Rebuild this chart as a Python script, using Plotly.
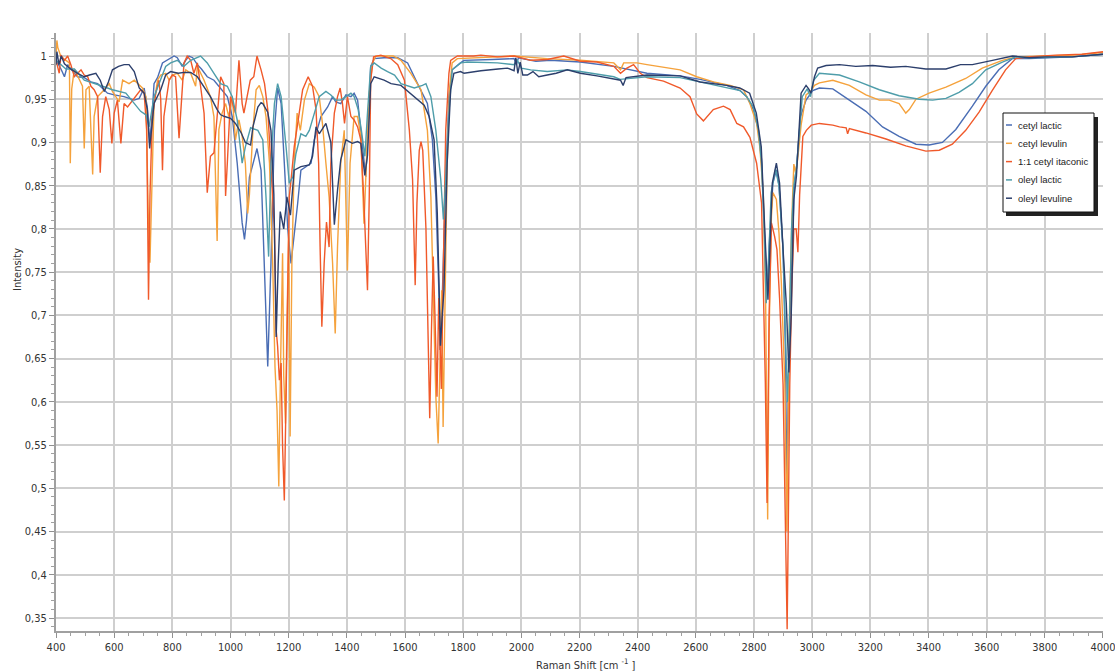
import plotly.graph_objects as go

# Raman spectra: (wavenumber cm-1, normalised intensity) pairs per sample
cetyl_lactic = [
    (400, 0.995), (410, 0.99), (417, 0.985), (429, 0.976), (440, 0.99), (451, 0.985), (474, 0.976),
    (497, 0.975), (520, 0.97), (543, 0.968), (577, 0.957), (600, 0.955), (634, 0.953), (669, 0.949),
    (686, 0.951), (703, 0.963), (714, 0.94), (722, 0.9), (730, 0.93), (737, 0.968), (749, 0.975),
    (766, 0.992), (806, 1.0), (817, 0.998), (834, 0.988), (846, 0.995), (857, 1.0), (870, 0.998),
    (886, 0.99), (900, 0.985), (920, 0.976), (943, 0.972), (966, 0.963), (989, 0.953), (1006, 0.93),
    (1023, 0.876), (1040, 0.807), (1048, 0.788), (1055, 0.81), (1065, 0.86), (1077, 0.875),
    (1091, 0.893), (1105, 0.868), (1117, 0.76), (1128, 0.641), (1139, 0.76), (1151, 0.914),
    (1162, 0.963), (1174, 0.945), (1185, 0.876), (1197, 0.799), (1208, 0.76), (1219, 0.791),
    (1231, 0.83), (1242, 0.868), (1259, 0.872), (1277, 0.876), (1288, 0.903), (1311, 0.93),
    (1334, 0.941), (1351, 0.953), (1362, 0.947), (1379, 0.945), (1397, 0.955), (1414, 0.953),
    (1425, 0.957), (1437, 0.949), (1448, 0.914), (1459, 0.876), (1465, 0.86), (1471, 0.9),
    (1482, 0.988), (1494, 0.997), (1528, 0.998), (1575, 0.998), (1609, 0.992), (1643, 0.968),
    (1677, 0.945), (1694, 0.903), (1706, 0.837), (1717, 0.722), (1720, 0.66), (1728, 0.72),
    (1740, 0.857), (1751, 0.953), (1762, 0.984), (1791, 0.992), (1803, 0.995), (1900, 0.996),
    (1975, 0.997), (1983, 0.99), (1990, 0.998), (2050, 0.994), (2100, 0.995), (2203, 0.993),
    (2318, 0.988), (2432, 0.98), (2546, 0.977), (2615, 0.973), (2706, 0.966), (2752, 0.96),
    (2775, 0.953), (2798, 0.938), (2815, 0.915), (2826, 0.88), (2836, 0.8), (2845, 0.725),
    (2852, 0.78), (2865, 0.853), (2877, 0.868), (2886, 0.85), (2900, 0.776), (2908, 0.66),
    (2913, 0.5), (2918, 0.62), (2924, 0.7), (2931, 0.776), (2939, 0.853), (2946, 0.87),
    (2960, 0.93), (2979, 0.949), (3002, 0.96), (3025, 0.963), (3071, 0.962), (3128, 0.949),
    (3185, 0.936), (3242, 0.918), (3299, 0.907), (3357, 0.898), (3402, 0.897), (3448, 0.9),
    (3494, 0.915), (3551, 0.942), (3597, 0.965), (3642, 0.984), (3688, 0.997), (3746, 0.997),
    (3894, 0.999), (4000, 1.002),
]

cetyl_levulin = [
    (400, 1.0), (403, 1.018), (406, 1.01), (417, 0.999), (434, 0.995), (446, 0.992), (449, 0.876),
    (454, 0.962), (463, 0.985), (480, 0.973), (491, 0.965), (497, 0.893), (503, 0.961), (514, 0.965),
    (526, 0.863), (531, 0.93), (543, 0.953), (560, 0.959), (583, 0.968), (594, 0.959), (606, 0.953),
    (617, 0.947), (629, 0.972), (651, 0.968), (669, 0.972), (680, 0.968), (697, 0.963), (709, 0.953),
    (717, 0.818), (723, 0.761), (729, 0.838), (737, 0.945), (749, 0.972), (760, 0.978), (777, 0.98),
    (789, 0.972), (800, 0.978), (817, 0.98), (834, 0.972), (846, 0.984), (863, 0.98), (880, 0.965),
    (886, 0.988), (909, 0.972), (931, 0.953), (943, 0.93), (954, 0.786), (960, 0.915), (971, 0.934),
    (983, 0.945), (994, 0.93), (1006, 0.953), (1017, 0.903), (1029, 0.926), (1040, 0.907),
    (1051, 0.876), (1059, 0.818), (1065, 0.84), (1077, 0.914), (1088, 0.961), (1099, 0.966),
    (1111, 0.953), (1122, 0.93), (1134, 0.876), (1145, 0.76), (1153, 0.64), (1160, 0.59),
    (1166, 0.502), (1172, 0.64), (1179, 0.772), (1183, 0.63), (1189, 0.575), (1194, 0.69),
    (1200, 0.8), (1205, 0.56), (1211, 0.76), (1219, 0.876), (1229, 0.934), (1240, 0.914),
    (1254, 0.949), (1271, 0.968), (1288, 0.964), (1305, 0.953), (1316, 0.922), (1328, 0.876),
    (1339, 0.837), (1351, 0.76), (1360, 0.679), (1368, 0.78), (1379, 0.876), (1391, 0.914),
    (1402, 0.752), (1411, 0.876), (1425, 0.93), (1437, 0.93), (1448, 0.907), (1459, 0.806),
    (1467, 0.868), (1476, 0.953), (1488, 0.992), (1500, 1.0), (1528, 1.0), (1560, 1.0),
    (1586, 0.995), (1620, 0.98), (1655, 0.961), (1677, 0.914), (1689, 0.837), (1698, 0.722),
    (1706, 0.606), (1714, 0.552), (1720, 0.64), (1726, 0.729), (1731, 0.571), (1737, 0.72),
    (1745, 0.876), (1753, 0.96), (1762, 0.992), (1780, 0.997), (1836, 0.998), (1975, 1.0),
    (2089, 0.997), (2203, 0.995), (2318, 0.992), (2341, 0.984), (2352, 0.992), (2398, 0.992),
    (2432, 0.99), (2546, 0.984), (2603, 0.976), (2661, 0.97), (2718, 0.966), (2764, 0.961),
    (2786, 0.945), (2809, 0.922), (2820, 0.895), (2832, 0.84), (2840, 0.72), (2847, 0.464),
    (2852, 0.68), (2860, 0.815), (2865, 0.842), (2871, 0.838), (2877, 0.834), (2886, 0.795),
    (2894, 0.738), (2906, 0.622), (2913, 0.45), (2918, 0.6), (2923, 0.72), (2932, 0.83),
    (2937, 0.875), (2943, 0.865), (2950, 0.88), (2962, 0.92), (2979, 0.955), (2997, 0.96),
    (3008, 0.966), (3025, 0.969), (3071, 0.972), (3128, 0.966), (3185, 0.955), (3231, 0.949),
    (3265, 0.949), (3299, 0.945), (3322, 0.934), (3334, 0.938), (3357, 0.95), (3402, 0.957),
    (3460, 0.964), (3528, 0.974), (3585, 0.986), (3654, 0.995), (3700, 0.999), (3800, 1.0),
    (3900, 1.001), (4000, 1.004),
]

cetyl_itaconic = [
    (400, 0.995), (406, 0.985), (411, 0.98), (417, 1.001), (429, 0.995), (440, 1.0), (451, 0.99),
    (463, 0.976), (474, 0.98), (486, 0.984), (497, 0.978), (509, 0.976), (520, 0.965), (531, 0.961),
    (543, 0.953), (552, 0.865), (560, 0.93), (571, 0.953), (583, 0.938), (592, 0.899), (600, 0.934),
    (611, 0.949), (623, 0.899), (634, 0.945), (646, 0.941), (663, 0.949), (680, 0.957), (691, 0.961),
    (703, 0.957), (712, 0.914), (718, 0.718), (723, 0.838), (731, 0.93), (743, 0.957), (754, 0.972),
    (760, 0.95), (766, 0.868), (771, 0.93), (777, 0.945), (789, 0.972), (800, 0.978), (811, 0.976),
    (823, 0.905), (831, 0.953), (840, 0.992), (851, 1.0), (863, 0.995), (874, 0.98), (886, 0.992),
    (897, 0.965), (909, 0.934), (920, 0.842), (931, 0.884), (943, 0.888), (954, 0.934), (966, 0.976),
    (977, 0.968), (983, 0.838), (989, 0.876), (1000, 0.953), (1017, 0.934), (1029, 0.995),
    (1040, 0.945), (1046, 0.934), (1057, 0.953), (1068, 0.972), (1080, 0.976), (1091, 1.0),
    (1105, 0.984), (1117, 0.968), (1128, 0.938), (1139, 0.876), (1151, 0.8), (1157, 0.683),
    (1162, 0.664), (1168, 0.625), (1174, 0.645), (1179, 0.548), (1185, 0.486), (1191, 0.605),
    (1197, 0.722), (1202, 0.837), (1208, 0.856), (1219, 0.895), (1231, 0.922), (1248, 0.961),
    (1267, 0.976), (1282, 0.965), (1294, 0.938), (1303, 0.876), (1308, 0.78), (1314, 0.687),
    (1322, 0.76), (1330, 0.808), (1339, 0.779), (1345, 0.876), (1357, 0.934), (1368, 0.953),
    (1377, 0.963), (1385, 0.945), (1392, 0.922), (1402, 0.953), (1414, 0.93), (1425, 0.926),
    (1437, 0.918), (1448, 0.903), (1458, 0.837), (1465, 0.783), (1471, 0.729), (1477, 0.837),
    (1482, 0.972), (1492, 0.999), (1517, 1.001), (1551, 0.997), (1575, 0.99), (1598, 0.972),
    (1615, 0.914), (1626, 0.857), (1632, 0.79), (1635, 0.735), (1641, 0.83), (1649, 0.891),
    (1655, 0.901), (1661, 0.891), (1672, 0.8), (1680, 0.684), (1685, 0.581), (1691, 0.684),
    (1697, 0.768), (1703, 0.7), (1710, 0.606), (1716, 0.72), (1722, 0.63), (1725, 0.615),
    (1732, 0.76), (1740, 0.914), (1751, 0.98), (1757, 0.995), (1780, 1.0), (1836, 1.0),
    (1861, 1.001), (1918, 0.999), (1975, 1.0), (2032, 0.995), (2089, 0.996), (2146, 1.0),
    (2203, 0.994), (2260, 0.993), (2318, 0.988), (2341, 0.98), (2363, 0.986), (2386, 0.99),
    (2409, 0.98), (2432, 0.975), (2489, 0.971), (2546, 0.963), (2580, 0.953), (2603, 0.933),
    (2626, 0.925), (2660, 0.938), (2695, 0.942), (2718, 0.938), (2741, 0.922), (2764, 0.918),
    (2786, 0.906), (2809, 0.876), (2826, 0.83), (2839, 0.622), (2845, 0.483), (2852, 0.7),
    (2860, 0.807), (2866, 0.8), (2871, 0.791), (2879, 0.776), (2888, 0.72), (2900, 0.62),
    (2906, 0.5), (2911, 0.4), (2914, 0.337), (2918, 0.46), (2923, 0.62), (2929, 0.72),
    (2937, 0.8), (2945, 0.8), (2951, 0.773), (2957, 0.84), (2968, 0.907), (2980, 0.914),
    (2997, 0.92), (3025, 0.922), (3071, 0.92), (3094, 0.918), (3117, 0.917), (3122, 0.91),
    (3128, 0.916), (3185, 0.911), (3254, 0.904), (3322, 0.896), (3391, 0.89), (3437, 0.891),
    (3482, 0.898), (3528, 0.914), (3574, 0.935), (3619, 0.96), (3665, 0.984), (3700, 0.997),
    (3746, 0.999), (3837, 1.001), (3928, 1.002), (4000, 1.005),
]

oleyl_lactic = [
    (400, 0.995), (417, 0.99), (434, 0.985), (463, 0.985), (497, 0.972), (543, 0.967), (594, 0.961),
    (640, 0.957), (669, 0.945), (691, 0.936), (709, 0.932), (720, 0.918), (737, 0.953), (760, 0.972),
    (777, 0.988), (794, 0.992), (817, 0.995), (840, 0.988), (863, 0.995), (897, 1.0), (920, 0.992),
    (943, 0.98), (966, 0.968), (989, 0.965), (1006, 0.953), (1023, 0.926), (1040, 0.876),
    (1051, 0.895), (1069, 0.917), (1094, 0.914), (1111, 0.903), (1122, 0.837), (1131, 0.768),
    (1139, 0.876), (1151, 0.945), (1162, 0.968), (1174, 0.953), (1191, 0.895), (1202, 0.853),
    (1214, 0.86), (1225, 0.887), (1242, 0.91), (1259, 0.907), (1271, 0.914), (1288, 0.934),
    (1305, 0.953), (1328, 0.959), (1345, 0.955), (1362, 0.949), (1379, 0.949), (1397, 0.953),
    (1414, 0.957), (1425, 0.953), (1439, 0.938), (1450, 0.914), (1462, 0.884), (1471, 0.934),
    (1482, 0.988), (1494, 0.992), (1518, 0.986), (1540, 0.982), (1564, 0.978), (1586, 0.968),
    (1632, 0.963), (1660, 0.966), (1672, 0.968), (1689, 0.953), (1706, 0.914), (1723, 0.857),
    (1732, 0.811), (1740, 0.857), (1751, 0.934), (1762, 0.984), (1791, 0.992), (1814, 0.993),
    (1918, 0.992), (1975, 0.99), (1985, 0.996), (2000, 0.986), (2032, 0.984), (2089, 0.982),
    (2158, 0.984), (2203, 0.982), (2318, 0.976), (2340, 0.973), (2432, 0.976), (2546, 0.975),
    (2615, 0.97), (2706, 0.964), (2752, 0.96), (2775, 0.953), (2798, 0.941), (2815, 0.915),
    (2826, 0.876), (2835, 0.8), (2842, 0.714), (2850, 0.76), (2859, 0.842), (2874, 0.869),
    (2886, 0.85), (2900, 0.776), (2911, 0.66), (2915, 0.6), (2920, 0.66), (2929, 0.8),
    (2937, 0.85), (2946, 0.87), (2966, 0.953), (2983, 0.962), (2994, 0.953), (3005, 0.972),
    (3025, 0.98), (3094, 0.978), (3162, 0.97), (3231, 0.961), (3299, 0.954), (3368, 0.95),
    (3414, 0.949), (3460, 0.951), (3505, 0.958), (3551, 0.968), (3597, 0.984), (3654, 0.993),
    (3700, 0.999), (3746, 0.998), (3894, 0.999), (4000, 1.002),
]

oleyl_levuline = [
    (400, 0.99), (403, 1.005), (410, 0.99), (418, 1.0), (429, 0.991), (450, 0.985), (474, 0.98),
    (497, 0.976), (515, 0.978), (537, 0.98), (552, 0.972), (566, 0.959), (580, 0.97), (594, 0.984),
    (615, 0.988), (634, 0.99), (651, 0.99), (669, 0.982), (686, 0.963), (703, 0.957), (714, 0.938),
    (722, 0.893), (730, 0.92), (737, 0.945), (760, 0.961), (777, 0.978), (794, 0.982), (820, 0.98),
    (840, 0.981), (863, 0.981), (886, 0.976), (909, 0.965), (931, 0.953), (954, 0.938), (966, 0.932),
    (980, 0.93), (1000, 0.928), (1017, 0.922), (1037, 0.911), (1051, 0.9), (1059, 0.899),
    (1069, 0.897), (1077, 0.918), (1094, 0.941), (1105, 0.946), (1111, 0.945), (1128, 0.935),
    (1139, 0.914), (1149, 0.84), (1157, 0.675), (1164, 0.76), (1171, 0.82), (1183, 0.8),
    (1194, 0.837), (1206, 0.816), (1219, 0.868), (1242, 0.872), (1271, 0.874), (1282, 0.884),
    (1294, 0.918), (1305, 0.91), (1328, 0.922), (1345, 0.9), (1357, 0.805), (1368, 0.845),
    (1379, 0.88), (1397, 0.903), (1419, 0.899), (1437, 0.901), (1448, 0.899), (1462, 0.862),
    (1471, 0.885), (1482, 0.968), (1494, 0.976), (1528, 0.972), (1552, 0.968), (1586, 0.966),
    (1632, 0.953), (1666, 0.943), (1683, 0.93), (1700, 0.903), (1711, 0.818), (1718, 0.72),
    (1722, 0.665), (1728, 0.7), (1734, 0.729), (1745, 0.876), (1757, 0.961), (1768, 0.98),
    (1791, 0.982), (1803, 0.98), (1861, 0.983), (1920, 0.985), (1952, 0.986), (1975, 0.983),
    (1981, 0.998), (1988, 0.98), (1996, 0.993), (2005, 0.978), (2021, 0.978), (2040, 0.982),
    (2060, 0.976), (2089, 0.978), (2120, 0.98), (2158, 0.984), (2203, 0.98), (2260, 0.977),
    (2318, 0.974), (2341, 0.972), (2350, 0.966), (2360, 0.975), (2432, 0.978), (2546, 0.977),
    (2615, 0.97), (2706, 0.966), (2751, 0.963), (2785, 0.957), (2808, 0.934), (2825, 0.895),
    (2837, 0.8), (2848, 0.718), (2855, 0.78), (2863, 0.853), (2877, 0.876), (2888, 0.853),
    (2900, 0.776), (2911, 0.714), (2920, 0.634), (2928, 0.699), (2937, 0.834), (2946, 0.861),
    (2962, 0.957), (2979, 0.966), (2988, 0.962), (2996, 0.957), (3008, 0.976), (3019, 0.986),
    (3048, 0.989), (3094, 0.99), (3150, 0.988), (3208, 0.989), (3270, 0.987), (3322, 0.988),
    (3391, 0.985), (3460, 0.985), (3510, 0.99), (3551, 0.99), (3620, 0.995), (3689, 1.0),
    (3746, 0.998), (3803, 0.999), (3894, 0.999), (3986, 1.001), (4000, 1.002),
]

series_names = ["cetyl lactic", "cetyl levulin", "1:1 cetyl itaconic", "oleyl lactic", "oleyl levuline"]
series_data = [cetyl_lactic, cetyl_levulin, cetyl_itaconic, oleyl_lactic, oleyl_levuline]
series_colors = ["#4A6DB4", "#F5A23C", "#F0592A", "#4E9DAA", "#2C3F6C"]

x_tick_values = list(range(400, 4001, 200))
x_tick_labels = [str(v) for v in x_tick_values]
y_tick_values = [0.35, 0.4, 0.45, 0.5, 0.55, 0.6, 0.65, 0.7, 0.75, 0.8, 0.85, 0.9, 0.95, 1.0]
y_tick_labels = ["0,35", "0,4", "0,45", "0,5", "0,55", "0,6", "0,65", "0,7", "0,75", "0,8",
                 "0,85", "0,9", "0,95", "1"]

FONT = "DejaVu Sans Condensed, Liberation Sans, sans-serif"
LEGEND_FONT = "Liberation Sans, Arial, sans-serif"
W, H = 1115, 671
L, R, T, B = 56, 1103, 33, 631  # plot area edges in pixels


def px(xp):
    return (xp - L) / (R - L)


def py(yp):
    return (B - yp) / (B - T)


fig = go.Figure()
for name, data, color in zip(series_names, series_data, series_colors):
    fig.add_trace(go.Scatter(
        x=[p[0] for p in data], y=[p[1] for p in data], name=name, mode="lines",
        line=dict(color=color, width=1.4), showlegend=False,
    ))

# Boxed legend with drop shadow
shapes = [
    dict(type="rect", xref="paper", yref="paper", x0=px(1006), x1=px(1098), y0=py(216), y1=py(117),
         fillcolor="#222222", line=dict(width=0), layer="above"),
    dict(type="rect", xref="paper", yref="paper", x0=px(1003), x1=px(1094), y0=py(212), y1=py(113),
         fillcolor="white", line=dict(color="#111111", width=1), layer="above"),
]
annotations = []
for i, (name, color) in enumerate(zip(series_names, series_colors)):
    yrow = 125 + i * 18.3
    shapes.append(dict(type="line", xref="paper", yref="paper", x0=px(1006), x1=px(1012),
                       y0=py(yrow), y1=py(yrow), line=dict(color=color, width=1.5), layer="above"))
    annotations.append(dict(text=name, xref="paper", yref="paper", x=px(1016), y=py(yrow),
                            xanchor="left", yanchor="middle", showarrow=False,
                            font=dict(family=LEGEND_FONT, size=9.5, color="#222222")))

annotations.append(dict(text="Intensity", xref="paper", yref="paper", x=px(17), y=py(270),
                        textangle=-90, xanchor="center", yanchor="middle", showarrow=False,
                        font=dict(family=FONT, size=11, color="#333333")))
annotations.append(dict(text="Raman Shift [cm <sup>-1</sup> ]", xref="paper", yref="paper", x=px(586),
                        y=py(664), xanchor="center", yanchor="middle", showarrow=False,
                        font=dict(family=FONT, size=11, color="#333333")))

fig.update_layout(
    width=W, height=H,
    margin=dict(l=L, r=W - R, t=T, b=H - B, autoexpand=False),
    paper_bgcolor="white", plot_bgcolor="white",
    font=dict(family=FONT, size=11, color="#333333"),
    shapes=shapes, annotations=annotations,
    hovermode=False,
)
fig.update_xaxes(
    range=[399.9, 4000.1], tickvals=x_tick_values, ticktext=x_tick_labels,
    ticklabeloverflow="allow", automargin=False,
    showgrid=True, gridcolor="#cfcfcf", gridwidth=1.6,
    showline=True, linecolor="#a0a0a0", linewidth=2,
    ticks="outside", ticklen=5, tickcolor="#909090",
    minor=dict(ticks="outside", dtick=50, tick0=400, ticklen=3, tickcolor="#a0a0a0", showgrid=False),
    zeroline=False, tickfont=dict(family=FONT, size=11, color="#333333"),
)
fig.update_yaxes(
    range=[0.335, 1.0266], tickvals=y_tick_values, ticktext=y_tick_labels,
    automargin=False,
    showgrid=True, gridcolor="#cfcfcf", gridwidth=1.6,
    showline=True, linecolor="#a0a0a0", linewidth=2,
    ticks="outside", ticklen=5, tickcolor="#909090",
    minor=dict(ticks="outside", dtick=0.01, tick0=0.35, ticklen=3, tickcolor="#a0a0a0", showgrid=False),
    zeroline=False, tickfont=dict(family=FONT, size=11, color="#333333"),
)

fig.write_html("out.html")
